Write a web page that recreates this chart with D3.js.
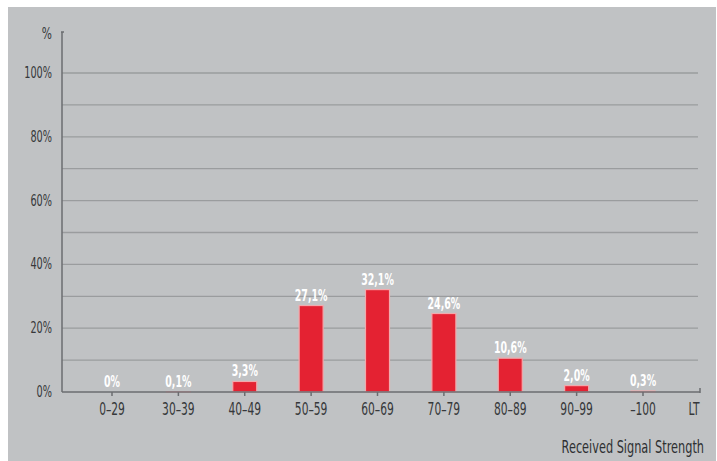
<!DOCTYPE html>
<html><head><meta charset="utf-8">
<script src="https://cdn.jsdelivr.net/npm/d3@7"></script>
<style>body{margin:0;background:#fff;}svg{display:block;}</style>
</head><body>
<svg id="c" width="717" height="461"></svg>
<script>
const categories = ["0–29","30–39","40–49","50–59","60–69","70–79","80–89","90–99","–100"];
const values = [0, 0.1, 3.3, 27.1, 32.1, 24.6, 10.6, 2.0, 0.3];
const valueLabels = ["0%","0,1%","3,3%","27,1%","32,1%","24,6%","10,6%","2,0%","0,3%"];
const yTicks = [0,20,40,60,80,100];
const gridTicks = [10,20,30,40,50,60,70,80,90,100];

const svg = d3.select("#c");
const font = "'DejaVu Sans Condensed','Liberation Sans Narrow',sans-serif";
svg.append("rect").attr("x",8).attr("y",7).attr("width",708).attr("height",454).attr("fill","#c0c2c4");

const x0 = 62, x1 = 700, y0 = 392;
const x = d3.scalePoint().domain(categories).range([112, 643]);
const y = d3.scaleLinear().domain([0,100]).range([y0, 73]);

function place(sel, fx, fy, sx){
  sel.attr("transform",(d,i)=>`translate(${fx(d,i)},${fy(d,i)}) scale(${sx},1)`);
}

// gridlines
svg.append("g").selectAll("line").data(gridTicks).join("line")
  .attr("x1",x0).attr("x2",698).attr("y1",d=>y(d)).attr("y2",d=>y(d))
  .attr("stroke","#9a9c9e").attr("stroke-width",1.3);

// bars
const bw = 24;
svg.append("g").selectAll("rect").data(values).join("rect")
  .attr("x",(d,i)=>x(categories[i])-bw/2).attr("width",bw)
  .attr("y",d=>y(d)).attr("height",d=>y0-y(d))
  .attr("fill","#e42232").attr("stroke","#f2a9ac").attr("stroke-width",1.2);

// value labels
svg.append("g").selectAll("text").data(values).join("text")
  .call(place,(d,i)=>x(categories[i]),d=>y(d)-5,0.7)
  .attr("text-anchor","middle").attr("fill","#ffffff")
  .attr("font-family",font).attr("font-size",15).attr("font-weight","bold")
  .text((d,i)=>valueLabels[i]);

// axes
const ax = svg.append("g").attr("stroke","#6b6d70").attr("stroke-width",1.5);
ax.append("line").attr("x1",x0).attr("x2",x0).attr("y1",32).attr("y2",y0);
ax.append("line").attr("x1",x0).attr("x2",x1).attr("y1",y0).attr("y2",y0);
ax.append("line").attr("x1",x0-1).attr("x2",x0+2).attr("y1",32).attr("y2",32);
ax.append("line").attr("x1",x1).attr("x2",x1).attr("y1",y0-4).attr("y2",y0+1);
ax.selectAll(".t").data(categories).join("line").attr("class","t")
  .attr("x1",d=>x(d)).attr("x2",d=>x(d)).attr("y1",y0).attr("y2",y0+4);

// y tick labels
svg.append("g").selectAll("text").data(yTicks).join("text")
  .call(place,()=>52,d=>y(d)+5,0.72)
  .attr("text-anchor","end")
  .attr("fill","#36383a").attr("font-family",font).attr("font-size",15)
  .text(d=>d+"%");
svg.append("text").call(place,()=>52,()=>39,0.72).attr("text-anchor","end")
  .attr("fill","#36383a").attr("font-family",font).attr("font-size",16.5).text("%");

// x tick labels
svg.append("g").selectAll("text").data(categories).join("text")
  .call(place,d=>x(d),()=>y0+23,0.7).attr("text-anchor","middle")
  .attr("fill","#36383a").attr("font-family",font).attr("font-size",17)
  .text(d=>d);
svg.append("text").call(place,()=>694,()=>y0+23,0.7).attr("text-anchor","middle")
  .attr("fill","#36383a").attr("font-family",font).attr("font-size",17).text("LT");

svg.append("text").call(place,()=>704,()=>453,0.7).attr("text-anchor","end")
  .attr("fill","#2e3032").attr("font-family",font).attr("font-size",18).text("Received Signal Strength");
</script>
</body></html>
